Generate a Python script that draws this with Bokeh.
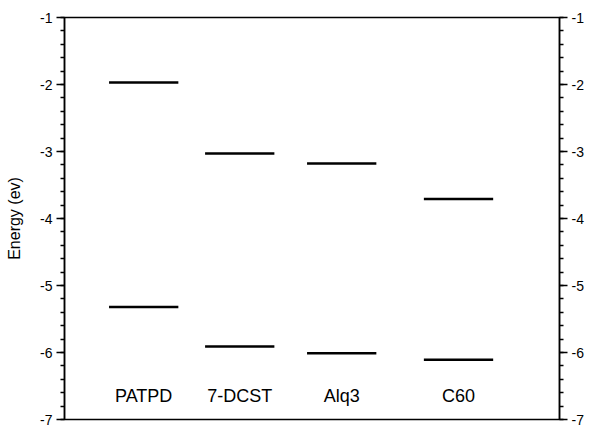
from bokeh.plotting import figure
from bokeh.models import LinearAxis, Range1d, SingleIntervalTicker, ColumnDataSource
from bokeh.core.properties import value
from bokeh.embed import file_html
from bokeh.resources import INLINE

# ---- data ----
materials = ["PATPD", "7-DCST", "Alq3", "C60"]
x_pos = [0.8, 1.77, 2.8, 3.98]
lumo = [-1.97, -3.03, -3.18, -3.71]
homo = [-5.32, -5.91, -6.01, -6.11]
label_y = -6.65
y_ticks = [-1, -2, -3, -4, -5, -6, -7]
y_tick_labels = ["-1", "-2", "-3", "-4", "-5", "-6", "-7"]

half = 0.35
FONT = "Liberation Sans"

p = figure(width=586, height=428, output_backend="svg", toolbar_location=None,
           x_range=Range1d(0, 5), y_range=Range1d(-7, -1),
           min_border_top=17, min_border_bottom=9, min_border_left=64, min_border_right=0)
p.background_fill_color = "white"
p.border_fill_color = "white"
p.outline_line_color = "black"
p.outline_line_width = 1.5
p.xgrid.visible = False
p.ygrid.visible = False
p.xaxis.visible = False

src = ColumnDataSource(dict(
    x0=[x - half for x in x_pos], x1=[x + half for x in x_pos],
    lumo=lumo, homo=homo, x=x_pos, name=materials, ly=[label_y] * len(x_pos)))

p.segment(x0="x0", x1="x1", y0="lumo", y1="lumo", source=src, line_color="black", line_width=2.5)
p.segment(x0="x0", x1="x1", y0="homo", y1="homo", source=src, line_color="black", line_width=2.5)
p.text(x="x", y="ly", text="name", source=src, text_align="center", text_baseline="middle",
       text_font=value(FONT), text_font_size="18px", text_color="black")

overrides = {t: s for t, s in zip(y_ticks, y_tick_labels)}

def style_axis(ax):
    ax.ticker = SingleIntervalTicker(interval=1, num_minor_ticks=5)
    ax.major_label_overrides = overrides
    ax.axis_line_color = "black"
    ax.axis_line_width = 1.5
    ax.major_tick_line_color = "black"
    ax.major_tick_line_width = 1.5
    ax.minor_tick_line_color = "black"
    ax.minor_tick_line_width = 1.5
    ax.major_tick_in = 0
    ax.major_tick_out = 8
    ax.minor_tick_in = 0
    ax.minor_tick_out = 4
    ax.major_label_text_font = FONT
    ax.major_label_text_font_size = "14px"
    ax.major_label_text_color = "black"
    ax.major_label_standoff = 4

style_axis(p.yaxis[0])
p.yaxis[0].axis_label = "Energy (ev)"
p.yaxis[0].axis_label_text_font = FONT
p.yaxis[0].axis_label_text_font_size = "16px"
p.yaxis[0].axis_label_text_font_style = "normal"
p.yaxis[0].axis_label_text_color = "black"
p.yaxis[0].axis_label_standoff = 14

right = LinearAxis()
style_axis(right)
p.add_layout(right, "right")

open("out.html", "w").write(file_html(p, INLINE))
